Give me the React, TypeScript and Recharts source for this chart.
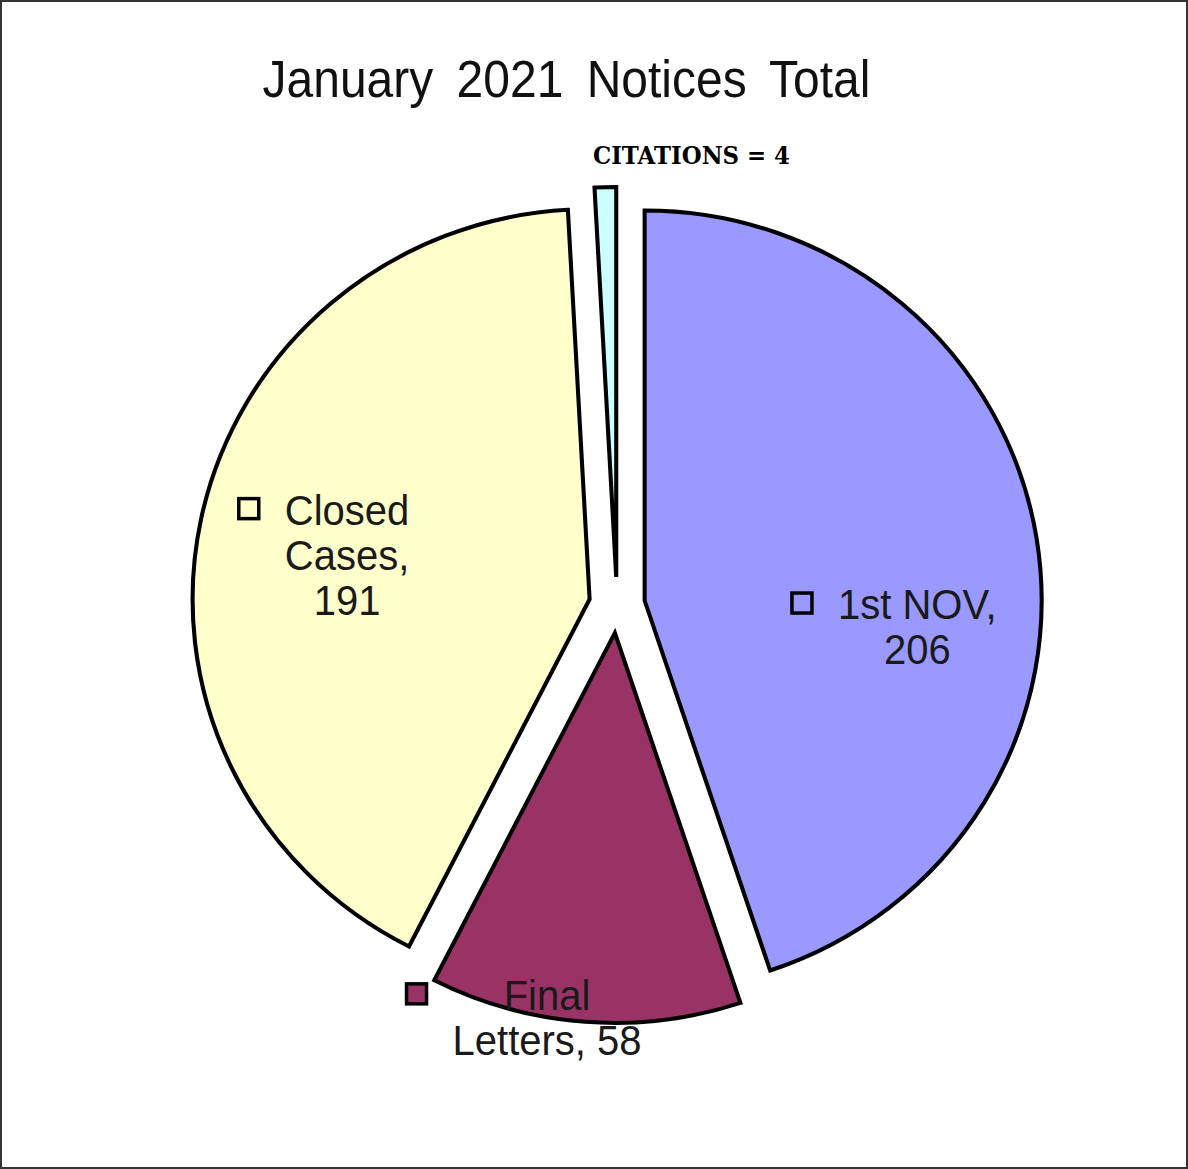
import React from "react";
import { PieChart, Pie, Sector } from "recharts";

// values, clockwise from 12 o'clock
const categories = ["1st NOV", "Final Letters", "Closed Cases", "CITATIONS"];
const values = [206, 58, 191, 4];
const labelLines = [
  ["1st NOV,", "206"],
  ["Final", "Letters, 58"],
  ["Closed", "Cases,", "191"],
  ["CITATIONS = 4"],
];
const title = "January 2021 Notices Total";

const colors = ["#9999FF", "#993366", "#FFFFCC", "#CCFFFF"];

const data = categories.map((name, i) => ({ name, value: values[i] }));

const W = 1188;
const H = 1169;
const EXPLODE = 28;
const RADIUS = 390;
const X_STRETCH = 1.018;
const RAD = Math.PI / 180;
const LABEL_SIZE = 40;
const TEXT_STRETCH = 1.08;
const LINE_H = 45;
const FONT = '"Liberation Sans", Arial, sans-serif';

// label block centre, relative to the exploded slice apex, in units of radius
const labelOffset = [
  [0.699, 0.068],
  [-0.174, 0.987],
  [-0.622, -0.113],
  [0.193, -1.059],
];

let ctx: CanvasRenderingContext2D | null = null;
const measure = (s: string) => {
  if (!ctx) ctx = document.createElement("canvas").getContext("2d");
  if (!ctx) return s.length * LABEL_SIZE * 0.55;
  ctx.font = `${LABEL_SIZE}px "Liberation Sans"`;
  return ctx.measureText(s).width;
};

// sectors are drawn here so each one can be pulled out along its mid angle
const renderSlice = (props: any) => {
  const { cx, cy, midAngle, startAngle, endAngle, outerRadius, index } = props;
  const ox = cx + EXPLODE * Math.cos(-midAngle * RAD);
  const oy = cy + EXPLODE * Math.sin(-midAngle * RAD);
  const lx = ox + labelOffset[index][0] * outerRadius;
  const ly = oy + labelOffset[index][1] * outerRadius;
  const lines = labelLines[index];

  let text: React.ReactNode;
  if (index === 3) {
    text = (
      <text
        x={lx}
        y={ly}
        textAnchor="middle"
        fill="#000"
        stroke="none"
        fontFamily='"DejaVu Serif", serif'
        fontWeight="bold"
        fontSize={24}
        textLength={197}
        lengthAdjust="spacingAndGlyphs"
      >
        {lines[0]}
      </text>
    );
  } else {
    const w = Math.max(...lines.map(measure));
    const top = ly - (lines.length * LINE_H) / 2;
    const firstBase = top + 37;
    const left = lx - w / 2;
    text = (
      <g>
        <rect
          x={left - 36 - 10}
          y={firstBase - 16 - 10}
          width={20}
          height={20}
          fill={colors[index]}
          stroke="#000"
          strokeWidth={3.5}
        />
        {lines.map((l, i) => (
          <text
            key={i}
            transform={`translate(${lx},${firstBase + i * LINE_H}) scale(1,${TEXT_STRETCH})`}
            textAnchor="middle"
            fill="#1a1a1a"
            stroke="none"
            fontFamily={FONT}
            fontSize={LABEL_SIZE}
          >
            {l}
          </text>
        ))}
      </g>
    );
  }

  return (
    <g key={`slice-${index}`}>
      <g transform={`translate(${ox},${oy}) scale(${X_STRETCH},1) translate(${-ox},${-oy})`}>
        <Sector
          cx={ox}
          cy={oy}
          innerRadius={0}
          outerRadius={outerRadius}
          startAngle={startAngle}
          endAngle={endAngle}
          fill={colors[index]}
          stroke="#000"
          strokeWidth={4}
        />
      </g>
      {text}
    </g>
  );
};

export default function App() {
  return (
    <div
      style={{
        position: "relative",
        width: W,
        height: H,
        boxSizing: "border-box",
        border: "2px solid #333",
        background: "#fff",
      }}
    >
      <style>{"body{margin:0}"}</style>
      <svg
        width={W - 4}
        height={120}
        style={{ position: "absolute", left: 0, top: 0, pointerEvents: "none" }}
      >
        <text
          transform="translate(564.5,95) scale(1,1.08)"
          textAnchor="middle"
          fontFamily={FONT}
          fontSize={48}
          wordSpacing={10}
          fill="#111"
        >
          {title}
        </text>
      </svg>
      <PieChart width={W - 4} height={H - 4}>
        <Pie
          data={data}
          dataKey="value"
          nameKey="name"
          cx={610}
          cy={598}
          outerRadius={RADIUS}
          startAngle={90}
          endAngle={-270}
          fill="none"
          stroke="none"
          label={renderSlice}
          labelLine={false}
          isAnimationActive={false}
        />
      </PieChart>
    </div>
  );
}
